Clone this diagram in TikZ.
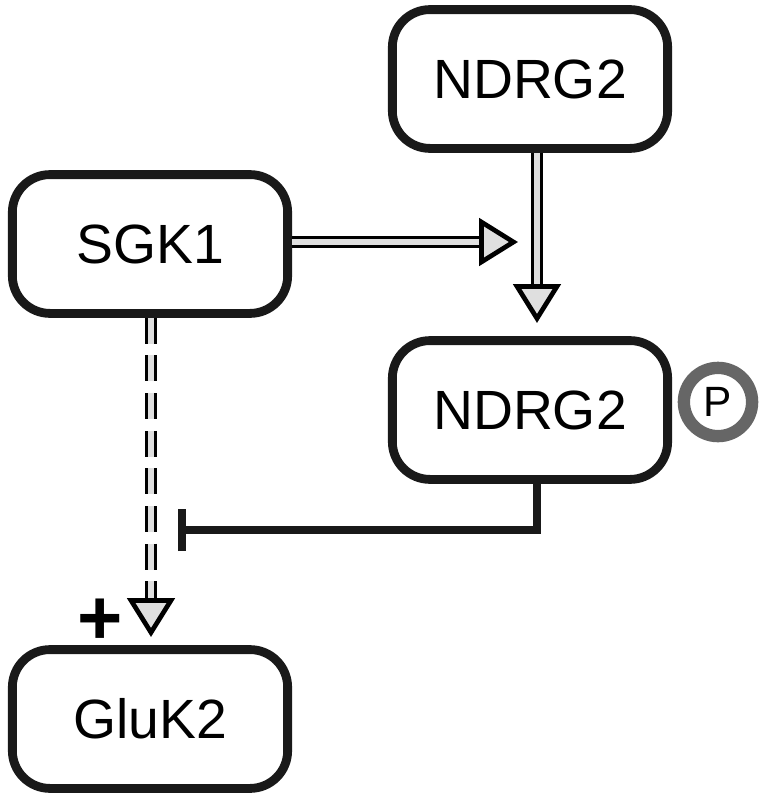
\documentclass[tikz,border=0pt]{standalone}
\usepackage{fontspec}
\setmainfont{Liberation Sans}
\usetikzlibrary{arrows.meta,calc}

\tikzset{
  protbox/.style={draw=black!90, line width=7.5pt, rounded corners=32pt, minimum width=234pt,
    minimum height=118pt, inner sep=0pt, font=\fontsize{47}{50}\selectfont},
  actarrow/.style={draw=black, line width=3.2pt, double=gray!25, double distance=4.5pt,
    -{Triangle[fill=gray!25, length=33pt, width=40pt, line width=4pt]}},
  dashact/.style={actarrow, dash pattern=on 22pt off 10pt},
  inhibit/.style={draw=black!90, line width=6.5pt, -{Bar[width=36pt, line width=6.5pt]}}
}

\begin{document}
\begin{tikzpicture}[x=0.85pt,y=-0.85pt]
\useasboundingbox (0,0) rectangle (768,805);
% proteins
\node[protbox] (ndrgtop) at (530,79) {NDRG2};
\node[protbox] (sgk) at (150,244) {SGK1};
\node[protbox] (ndrgp) at (530,410) {NDRG2};
\node[protbox] (gluk) at (150,719) {GluK2};
\node[circle, draw=black!60, line width=10.5pt, minimum size=58pt, inner sep=0pt,
  font=\fontsize{36}{38}\selectfont] (phos) at (718,402) {P};
% free ends
\coordinate (sgktip) at (518,242);
\coordinate (ndrgtip) at (537,323);
\coordinate (glutip) at (151,637);
\coordinate (inhib) at (178,530);
% links
\draw[actarrow] (sgk.east |- sgktip) -- (sgktip);
\draw[actarrow] (ndrgtop.south -| ndrgtip) -- (ndrgtip);
\draw[dashact] (sgk.south -| glutip) -- (glutip);
\draw[inhibit] ($(ndrgp.south)+(7,0)$) |- (inhib);
\node[font=\bfseries\fontsize{66}{70}\selectfont, inner sep=0pt] (plus) at (100,622) {+};
\end{tikzpicture}
\end{document}
